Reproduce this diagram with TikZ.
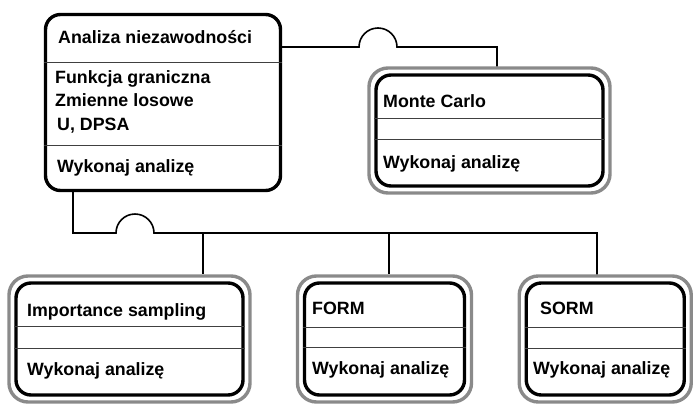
\documentclass[tikz,border=0pt]{standalone}
\usepackage{fontspec}
\setmainfont{Liberation Sans}
\definecolor{frame}{RGB}{138,138,138}
\begin{document}
\begin{tikzpicture}[x=1pt,y=-1pt,
  classbox/.style={draw=black, line width=3.4pt, rounded corners=15pt, inner sep=0pt},
  outerbox/.style={draw=frame, line width=3.4pt, rounded corners=19pt, inner sep=0pt},
  divider/.style={draw=black!75, line width=1pt},
  link/.style={draw=black, line width=1.6pt},
  lbl/.style={anchor=base west, inner sep=0pt,
    font=\fontsize{17.8}{20}\selectfont\bfseries}]
\useasboundingbox (0,0) rectangle (694,405);

% base class
\node[classbox, minimum width=235pt, minimum height=176pt] (main) at (163,102.5) {};
\draw[divider] (main.west |- 0,62) -- (main.east |- 0,62);
\draw[divider] (main.west |- 0,145) -- (main.east |- 0,145);
\node[lbl] (mainT) at (58,43) {Analiza niezawodności};
\node[lbl] (mainA1) at (55,83) {Funkcja graniczna};
\node[lbl] (mainA2) at (55,106) {Zmienne losowe};
\node[lbl] (mainA3) at (57,130) {U, DPSA};
\node[lbl] (mainM) at (57,172) {Wykonaj analizę};

% Monte Carlo
\node[outerbox, minimum width=241pt, minimum height=125pt] (mcO) at (489.5,130.5) {};
\node[classbox, minimum width=227pt, minimum height=111pt] (mc) at (489.5,130.5) {};
\draw[divider] (mc.west |- 0,118) -- (mc.east |- 0,118);
\draw[divider] (mc.west |- 0,139) -- (mc.east |- 0,139);
\node[lbl] (mcT) at (383,107) {Monte Carlo};
\node[lbl] (mcM) at (383,168) {Wykonaj analizę};

% Importance sampling
\node[outerbox, minimum width=241pt, minimum height=126pt] (isO) at (129.5,339) {};
\node[classbox, minimum width=227pt, minimum height=112pt] (is) at (129.5,339) {};
\draw[divider] (is.west |- 0,326) -- (is.east |- 0,326);
\draw[divider] (is.west |- 0,348) -- (is.east |- 0,348);
\node[lbl] (isT) at (27,316) {Importance sampling};
\node[lbl] (isM) at (27,375) {Wykonaj analizę};

% FORM
\node[outerbox, minimum width=174pt, minimum height=126pt] (formO) at (384.5,339) {};
\node[classbox, minimum width=160pt, minimum height=112pt] (form) at (384.5,339) {};
\draw[divider] (form.west |- 0,327) -- (form.east |- 0,327);
\draw[divider] (form.west |- 0,347) -- (form.east |- 0,347);
\node[lbl] (formT) at (312,314) {FORM};
\node[lbl] (formM) at (312,374) {Wykonaj analizę};

% SORM
\node[outerbox, minimum width=172pt, minimum height=126pt] (sormO) at (605.25,339) {};
\node[classbox, minimum width=158pt, minimum height=112pt] (sorm) at (605.25,339) {};
\draw[divider] (sorm.west |- 0,327) -- (sorm.east |- 0,327);
\draw[divider] (sorm.west |- 0,348) -- (sorm.east |- 0,348);
\node[lbl] (sormT) at (540,314) {SORM};
\node[lbl] (sormM) at (533,374) {Wykonaj analizę};

% connector to Monte Carlo, with a hop
\coordinate (topJ) at (497,47);
\draw[link] (main.east |- topJ) -- (359,47) arc[start angle=180, end angle=0, radius=19pt]
  -- (topJ) -- (topJ |- mcO.north);

% bus to the lower classes, with a hop
\coordinate (busL) at (73,233);
\coordinate (busR) at (597,233);
\coordinate (dropIS) at (203,233);
\coordinate (dropFORM) at (389,233);
\draw[link] (main.south -| busL) -- (busL) -- (116,233)
  arc[start angle=180, end angle=0, radius=19pt] -- (busR) -- (busR |- sormO.north);
\draw[link] (dropIS) -- (dropIS |- isO.north);
\draw[link] (dropFORM) -- (dropFORM |- formO.north);
\end{tikzpicture}
\end{document}
